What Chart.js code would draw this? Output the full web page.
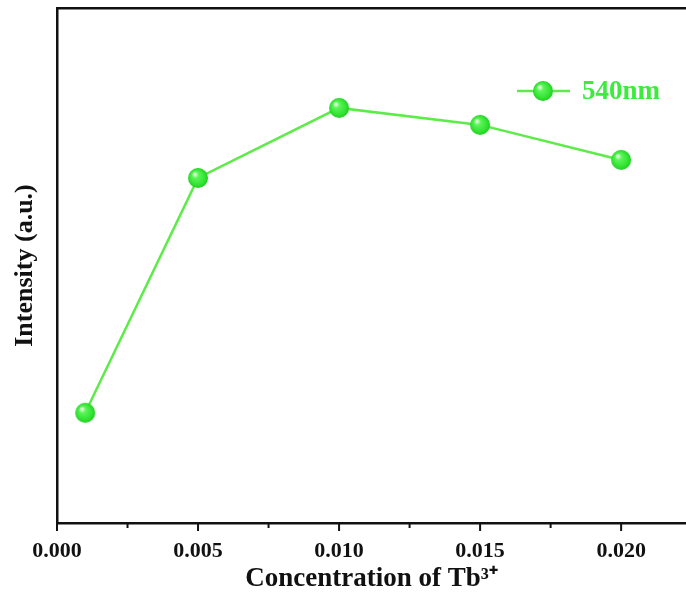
<!DOCTYPE html>
<html>
<head>
<meta charset="utf-8">
<script src="https://cdn.jsdelivr.net/npm/chart.js@4.4.0/dist/chart.umd.min.js"></script>
<style>
  html, body { margin: 0; padding: 0; background: #fff; }
  #wrap { width: 686px; height: 596px; position: relative; }
</style>
</head>
<body>
<div id="wrap"><canvas id="chart" width="686" height="596"></canvas></div>
<script>
// ── Data (intensity in arbitrary units) ──
var concentrations = [0.001, 0.005, 0.010, 0.015, 0.020];
var intensity540   = [21.4, 67.0, 80.6, 77.3, 70.5];
var seriesLabel    = '540nm';
var xTickStep      = 0.0025;
var xLabelled      = [0.000, 0.005, 0.010, 0.015, 0.020];

var GREEN = '#3cec3c';
var LINE  = '#5cec48';
var FONT  = '"Liberation Serif", "Times New Roman", serif';

// sphere marker drawn once on an offscreen canvas
function _sphere(r) {
  var c = document.createElement('canvas');
  c.width = c.height = r * 2 + 2;
  var g = c.getContext('2d');
  var cx = r + 1, cy = r + 1;
  var grad = g.createRadialGradient(cx - r * 0.35, cy - r * 0.4, r * 0.1, cx, cy, r);
  grad.addColorStop(0, '#d8ffd0');
  grad.addColorStop(0.25, '#5cf55a');
  grad.addColorStop(0.8, '#2ee22e');
  grad.addColorStop(1, '#22c822');
  g.fillStyle = grad;
  g.beginPath();
  g.arc(cx, cy, r, 0, Math.PI * 2);
  g.fill();
  return c;
}
var marker = _sphere(10);

// legend drawn inside the plot, top right
var insideLegend = {
  id: 'insideLegend',
  afterDraw: function(chart) {
    var ctx = chart.ctx;
    var x = 517, y = 91;
    ctx.save();
    ctx.strokeStyle = LINE;
    ctx.lineWidth = 2.5;
    ctx.beginPath();
    ctx.moveTo(x, y); ctx.lineTo(x + 17, y);
    ctx.moveTo(x + 36, y); ctx.lineTo(x + 53, y);
    ctx.stroke();
    ctx.drawImage(marker, x + 26 - marker.width / 2, y - marker.height / 2);
    ctx.fillStyle = GREEN;
    ctx.font = 'bold 27px ' + FONT;
    ctx.textBaseline = 'middle';
    ctx.fillText(chart.data.datasets[0].label, 582, y + 1);
    ctx.restore();
  }
};

// shorter minor ticks on the x axis
var minorTicks = {
  id: 'minorTicks',
  afterDraw: function(chart) {
    var s = chart.scales.x, ctx = chart.ctx;
    ctx.save();
    ctx.strokeStyle = '#111';
    ctx.lineWidth = 2;
    s.ticks.forEach(function(t) {
      var major = xLabelled.some(function(v) { return Math.abs(v - t.value) < 1e-6; });
      var px = s.getPixelForValue(t.value);
      ctx.beginPath();
      ctx.moveTo(px, s.top);
      ctx.lineTo(px, s.top + (major ? 8 : 5));
      ctx.stroke();
    });
    ctx.restore();
  }
};

new Chart(document.getElementById('chart'), {
  type: 'line',
  data: {
    labels: concentrations,
    datasets: [{
      label: seriesLabel,
      data: concentrations.map(function(c, i) { return { x: c, y: intensity540[i] }; }),
      borderColor: LINE,
      borderWidth: 2.5,
      pointStyle: marker,
      pointRadius: 10,
      tension: 0
    }]
  },
  options: {
    responsive: false,
    animation: false,
    layout: { autoPadding: false, padding: { top: 8, left: 0, right: 0, bottom: 0 } },
    plugins: { legend: { display: false }, tooltip: { enabled: false } },
    scales: {
      x: {
        type: 'linear',
        min: 0,
        max: 0.0223,
        afterBuildTicks: function(s) {
          s.ticks = [];
          for (var v = 0; v <= 0.0201; v += xTickStep) s.ticks.push({ value: +v.toFixed(4) });
        },
        afterFit: function(s) { s.height = 73; },
        grid: { display: false, drawOnChartArea: false, drawTicks: false, tickLength: 8 },
        border: { display: true, color: '#111', width: 2.5 },
        ticks: {
          color: '#111',
          padding: 15,
          maxRotation: 0,
          autoSkip: false,
          font: { family: FONT, size: 22, weight: 'bold' },
          callback: function(v) {
            for (var i = 0; i < xLabelled.length; i++) {
              if (Math.abs(v - xLabelled[i]) < 1e-6) return xLabelled[i].toFixed(3);
            }
            return '';
          }
        },
        title: {
          display: true,
          text: 'Concentration of Tb³⁺',
          color: '#111',
          padding: { top: 0, bottom: 1 },
          font: { family: FONT, size: 27, weight: 'bold' }
        }
      },
      xTop: {
        type: 'linear',
        position: 'top',
        min: 0,
        max: 0.0223,
        afterFit: function(s) { s.height = 0; },
        grid: { display: false },
        ticks: { display: false },
        border: { display: true, color: '#111', width: 2.5 }
      },
      y: {
        min: 0,
        max: 100,
        afterFit: function(s) { s.width = 57; },
        grid: { display: false },
        ticks: { display: false },
        border: { display: true, color: '#111', width: 2.5 },
        title: {
          display: true,
          text: 'Intensity (a.u.)',
          color: '#111',
          padding: { top: 10, bottom: 0 },
          font: { family: FONT, size: 26, weight: 'bold' }
        }
      }
    }
  },
  plugins: [insideLegend, minorTicks]
});
</script>
</body>
</html>
